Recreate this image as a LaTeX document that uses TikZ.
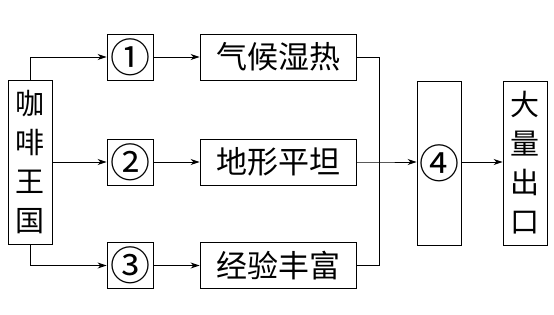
\documentclass[tikz,border=0pt]{standalone}
\usepackage{fontspec}
\newfontfamily\cjk{Noto Sans CJK SC}
\usetikzlibrary{arrows.meta}
\tikzset{box/.style={draw,line width=0.9pt,inner sep=0pt,font=\cjk\fontsize{31}{34}\selectfont},
         numbox/.style={box,minimum width=46pt,minimum height=46pt},
         txtbox/.style={box,minimum width=156pt,minimum height=46pt},
         tallbox/.style={box,minimum width=44pt,minimum height=164pt,align=center,
                         font=\cjk\fontsize{29}{39}\selectfont},
         arr/.style={line width=0.9pt,-{Stealth[length=9pt,width=6pt]}},
         ln/.style={line width=0.9pt}
         }
\newcommand{\cnum}[1]{\fontsize{40}{40}\selectfont #1}
\begin{document}
\begin{tikzpicture}[x=1pt,y=-1pt]
\useasboundingbox (0,0) rectangle (554,314);
% left column
\node[tallbox] (kf) at (30.5,162) {咖\\啡\\王\\国};
\node[numbox] (n1) at (130,57) {\cnum{①}};
\node[numbox] (n2) at (130,162) {\cnum{②}};
\node[numbox] (n3) at (130,265.5) {\cnum{③}};
% conditions
\node[txtbox] (t1) at (278,57) {气候湿热};
\node[txtbox] (t2) at (278,162) {地形平坦};
\node[txtbox] (t3) at (278,265.5) {经验丰富};
% right column
\node[tallbox] (n4) at (439,163) {\cnum{④}};
\node[tallbox] (ck) at (525,163) {大\\量\\出\\口};
\coordinate (j) at (379,162);

\draw[arr] (kf.north) |- (n1);
\draw[arr] (kf.east |- n2) -- (n2);
\draw[arr] (kf.south) |- (n3);
\draw[arr] (n1) -- (t1);
\draw[arr] (n2) -- (t2);
\draw[arr] (n3) -- (t3);
\draw[ln] (t1.east) -| (j);
\draw[ln] (t3.east) -| (j);
\draw[arr] (t2.east) -- (j) -- (j -| n4.west);
\draw[arr] (n4.east |- j) -- (j -| ck.west);
\end{tikzpicture}
\end{document}
